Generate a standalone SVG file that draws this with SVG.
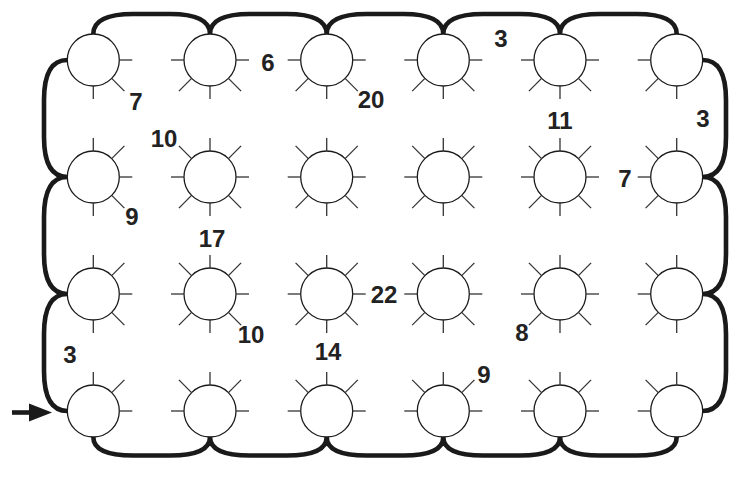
<svg xmlns="http://www.w3.org/2000/svg" xmlns:xlink="http://www.w3.org/1999/xlink" width="736" height="499" viewBox="0 0 736 499">
<style>
.node circle{fill:#fff;stroke:#1a1a1a;stroke-width:1.3}
.sp{stroke:#333;stroke-width:1.3}
.edge{fill:none;stroke:#1a1a1a;stroke-width:4.6;stroke-linecap:butt;stroke-linejoin:round}
.lbl{font-family:"Liberation Sans",Arial,sans-serif;font-weight:bold;font-size:24px;fill:#222;text-anchor:middle}
</style>
<defs>
<line id="sN" class="sp" x1="0" y1="-26" x2="0" y2="-39"/>
<line id="sS" class="sp" x1="0" y1="26" x2="0" y2="39"/>
<line id="sE" class="sp" x1="26" y1="0" x2="39" y2="0"/>
<line id="sW" class="sp" x1="-26" y1="0" x2="-39" y2="0"/>
<line id="sNE" class="sp" x1="18.4" y1="-18.4" x2="31.1" y2="-31.1"/>
<line id="sSE" class="sp" x1="18.4" y1="18.4" x2="31.1" y2="31.1"/>
<line id="sSW" class="sp" x1="-18.4" y1="18.4" x2="-31.1" y2="31.1"/>
<line id="sNW" class="sp" x1="-18.4" y1="-18.4" x2="-31.1" y2="-31.1"/>
</defs>

<g id="connectors">
<path class="edge" d="M93.3,34 C93.3,20 107.3,14 133.3,14 L170,14 C196,14 210,20 210,34 M210,34 C210,20 224,14 250,14 L286.7,14 C312.7,14 326.7,20 326.7,34 M326.7,34 C326.7,20 340.7,14 366.7,14 L403.3,14 C429.3,14 443.3,20 443.3,34 M443.3,34 C443.3,20 457.3,14 483.3,14 L520,14 C546,14 560,20 560,34 M560,34 C560,20 574,14 600,14 L636.7,14 C662.7,14 676.7,20 676.7,34"/>
<path class="edge" d="M702.7,60 C719,60 726,74 726,100 L726,137 C726,163 719,177 702.7,177 M702.7,177 C719,177 726,191 726,217 L726,254 C726,280 719,294 702.7,294 M702.7,294 C719,294 726,308 726,334 L726,371 C726,397 719,411 702.7,411"/>
<path class="edge" d="M93.3,437 C93.3,450 107.3,455.5 133.3,455.5 L170,455.5 C196,455.5 210,450 210,437 M210,437 C210,450 224,455.5 250,455.5 L286.7,455.5 C312.7,455.5 326.7,450 326.7,437 M326.7,437 C326.7,450 340.7,455.5 366.7,455.5 L403.3,455.5 C429.3,455.5 443.3,450 443.3,437 M443.3,437 C443.3,450 457.3,455.5 483.3,455.5 L520,455.5 C546,455.5 560,450 560,437 M560,437 C560,450 574,455.5 600,455.5 L636.7,455.5 C662.7,455.5 676.7,450 676.7,437"/>
<path class="edge" d="M67.3,60 C51,60 44,74 44,100 L44,137 C44,163 51,177 67.3,177 M67.3,177 C51,177 44,191 44,217 L44,254 C44,280 51,294 67.3,294 M67.3,294 C51,294 44,308 44,334 L44,371 C44,397 51,411 67.3,411"/>
<g id="arrow">
<line x1="12" y1="412.5" x2="32" y2="412.5" stroke="#1a1a1a" stroke-width="4.6"/>
<polygon points="29,403.5 52,412.5 29,421.5" fill="#1a1a1a"/>
</g>
</g>

<g id="n-0-0" class="node" transform="translate(93.3,60)"><circle r="26"/><use href="#sE"/><use href="#sSE"/><use href="#sS"/></g>
<g id="n-0-1" class="node" transform="translate(210,60)"><circle r="26"/><use href="#sW"/><use href="#sE"/><use href="#sSW"/><use href="#sS"/><use href="#sSE"/></g>
<g id="n-0-2" class="node" transform="translate(326.7,60)"><circle r="26"/><use href="#sW"/><use href="#sE"/><use href="#sSW"/><use href="#sS"/><use href="#sSE"/></g>
<g id="n-0-3" class="node" transform="translate(443.3,60)"><circle r="26"/><use href="#sW"/><use href="#sE"/><use href="#sSW"/><use href="#sS"/><use href="#sSE"/></g>
<g id="n-0-4" class="node" transform="translate(560,60)"><circle r="26"/><use href="#sW"/><use href="#sE"/><use href="#sSW"/><use href="#sS"/><use href="#sSE"/></g>
<g id="n-0-5" class="node" transform="translate(676.7,60)"><circle r="26"/><use href="#sW"/><use href="#sSW"/><use href="#sS"/></g>

<g id="n-1-0" class="node" transform="translate(93.3,177)"><circle r="26"/><use href="#sN"/><use href="#sNE"/><use href="#sE"/><use href="#sSE"/><use href="#sS"/></g>
<g id="n-1-1" class="node" transform="translate(210,177)"><circle r="26"/><use href="#sN"/><use href="#sNE"/><use href="#sE"/><use href="#sSE"/><use href="#sS"/><use href="#sSW"/><use href="#sW"/><use href="#sNW"/></g>
<g id="n-1-2" class="node" transform="translate(326.7,177)"><circle r="26"/><use href="#sN"/><use href="#sNE"/><use href="#sE"/><use href="#sSE"/><use href="#sS"/><use href="#sSW"/><use href="#sW"/><use href="#sNW"/></g>
<g id="n-1-3" class="node" transform="translate(443.3,177)"><circle r="26"/><use href="#sN"/><use href="#sNE"/><use href="#sE"/><use href="#sSE"/><use href="#sS"/><use href="#sSW"/><use href="#sW"/><use href="#sNW"/></g>
<g id="n-1-4" class="node" transform="translate(560,177)"><circle r="26"/><use href="#sN"/><use href="#sNE"/><use href="#sE"/><use href="#sSE"/><use href="#sS"/><use href="#sSW"/><use href="#sW"/><use href="#sNW"/></g>
<g id="n-1-5" class="node" transform="translate(676.7,177)"><circle r="26"/><use href="#sN"/><use href="#sNW"/><use href="#sW"/><use href="#sSW"/><use href="#sS"/></g>

<g id="n-2-0" class="node" transform="translate(93.3,294)"><circle r="26"/><use href="#sN"/><use href="#sNE"/><use href="#sE"/><use href="#sSE"/><use href="#sS"/></g>
<g id="n-2-1" class="node" transform="translate(210,294)"><circle r="26"/><use href="#sN"/><use href="#sNE"/><use href="#sE"/><use href="#sSE"/><use href="#sS"/><use href="#sSW"/><use href="#sW"/><use href="#sNW"/></g>
<g id="n-2-2" class="node" transform="translate(326.7,294)"><circle r="26"/><use href="#sN"/><use href="#sNE"/><use href="#sE"/><use href="#sSE"/><use href="#sS"/><use href="#sSW"/><use href="#sW"/><use href="#sNW"/></g>
<g id="n-2-3" class="node" transform="translate(443.3,294)"><circle r="26"/><use href="#sN"/><use href="#sNE"/><use href="#sE"/><use href="#sSE"/><use href="#sS"/><use href="#sSW"/><use href="#sW"/><use href="#sNW"/></g>
<g id="n-2-4" class="node" transform="translate(560,294)"><circle r="26"/><use href="#sN"/><use href="#sNE"/><use href="#sE"/><use href="#sSE"/><use href="#sS"/><use href="#sSW"/><use href="#sW"/><use href="#sNW"/></g>
<g id="n-2-5" class="node" transform="translate(676.7,294)"><circle r="26"/><use href="#sN"/><use href="#sNW"/><use href="#sW"/><use href="#sSW"/><use href="#sS"/></g>

<g id="n-3-0" class="node" transform="translate(93.3,411)"><circle r="26"/><use href="#sN"/><use href="#sNE"/><use href="#sE"/></g>
<g id="n-3-1" class="node" transform="translate(210,411)"><circle r="26"/><use href="#sW"/><use href="#sNW"/><use href="#sN"/><use href="#sNE"/><use href="#sE"/></g>
<g id="n-3-2" class="node" transform="translate(326.7,411)"><circle r="26"/><use href="#sW"/><use href="#sNW"/><use href="#sN"/><use href="#sNE"/><use href="#sE"/></g>
<g id="n-3-3" class="node" transform="translate(443.3,411)"><circle r="26"/><use href="#sW"/><use href="#sNW"/><use href="#sN"/><use href="#sNE"/><use href="#sE"/></g>
<g id="n-3-4" class="node" transform="translate(560,411)"><circle r="26"/><use href="#sW"/><use href="#sNW"/><use href="#sN"/><use href="#sNE"/><use href="#sE"/></g>
<g id="n-3-5" class="node" transform="translate(676.7,411)"><circle r="26"/><use href="#sW"/><use href="#sNW"/><use href="#sN"/></g>

<g id="labels">
<text class="lbl" x="136" y="110">7</text>
<text class="lbl" x="164" y="147">10</text>
<text class="lbl" x="132" y="225">9</text>
<text class="lbl" x="212" y="247">17</text>
<text class="lbl" x="268" y="71">6</text>
<text class="lbl" x="371" y="108">20</text>
<text class="lbl" x="501" y="47">3</text>
<text class="lbl" x="560" y="129">11</text>
<text class="lbl" x="703" y="127">3</text>
<text class="lbl" x="625" y="187">7</text>
<text class="lbl" x="251" y="343">10</text>
<text class="lbl" x="384" y="303">22</text>
<text class="lbl" x="328" y="360">14</text>
<text class="lbl" x="484" y="383">9</text>
<text class="lbl" x="522" y="341">8</text>
<text class="lbl" x="70" y="363">3</text>
</g>
</svg>
